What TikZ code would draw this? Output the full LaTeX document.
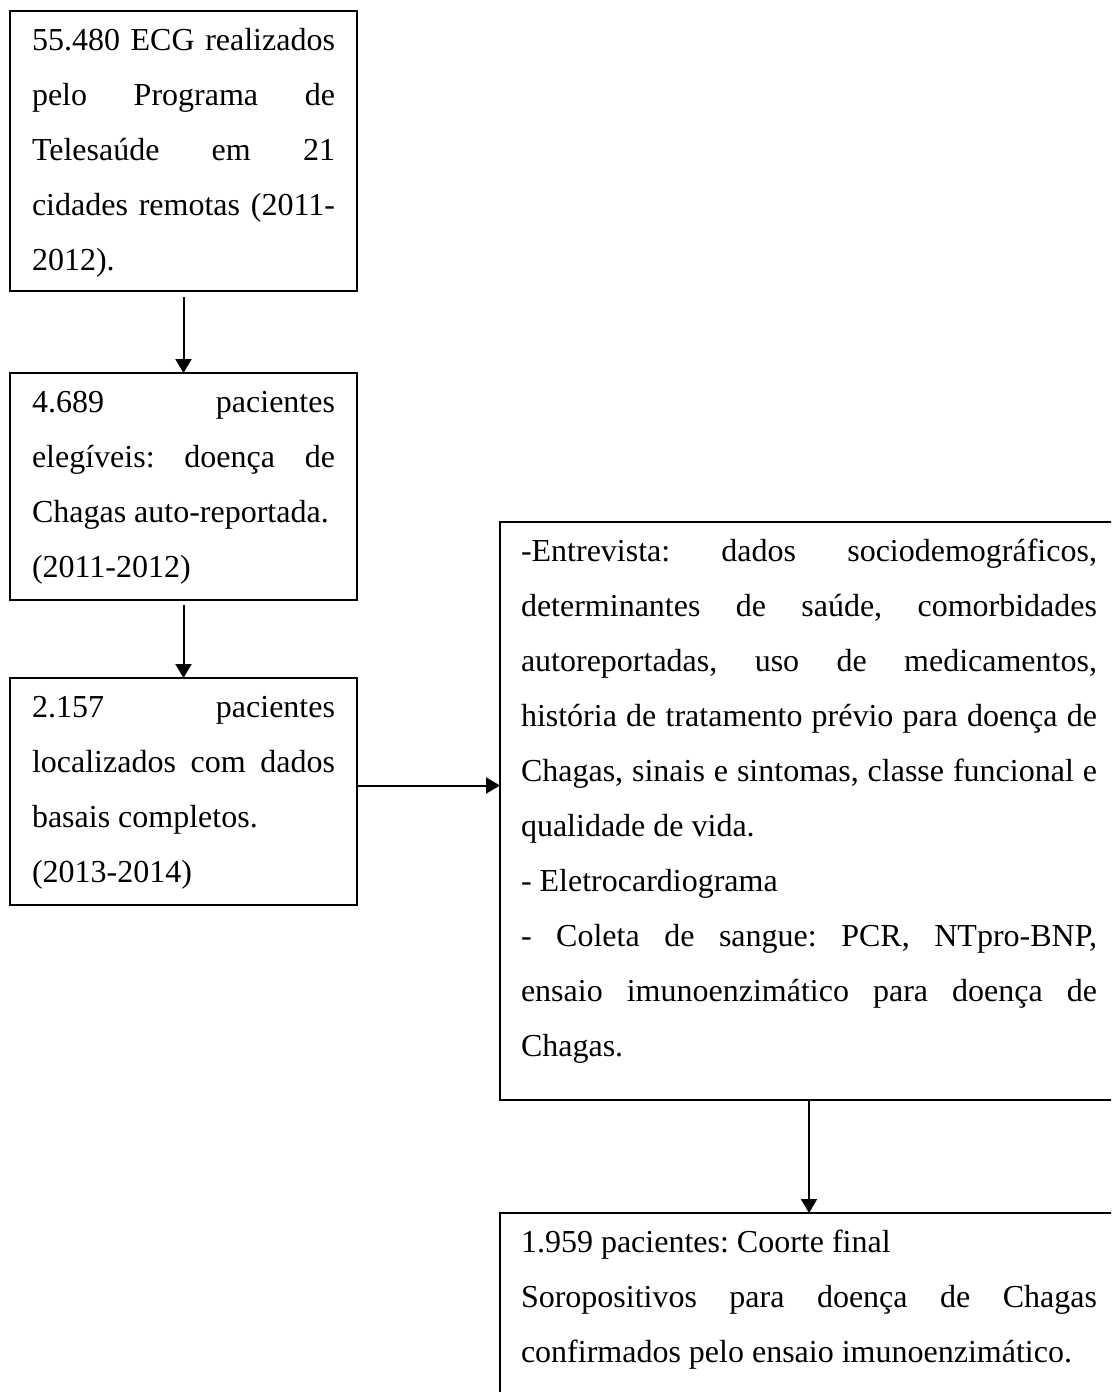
\documentclass[tikz,border=0pt]{standalone}
\usepackage{fontspec}
\setmainfont{Liberation Serif}
\usetikzlibrary{arrows.meta}
\setlength{\parindent}{0pt}
\tolerance=10000
\hbadness=10000
\hfuzz=20pt
\hyphenpenalty=10000
\frenchspacing
\newcommand{\jls}[1]{\noindent\hbox to 303pt{#1}}
\newcommand{\jlb}[1]{\noindent\hbox to 576pt{#1}}
\newcommand{\topstrut}{\spaceskip=0pt\xspaceskip=0pt\rule{0pt}{39pt}}
\newcommand{\botstrut}[1]{\rule[-#1]{0pt}{#1}}
\tikzset{
  box/.style={draw, line width=2pt, outer sep=0pt, inner xsep=22pt, inner ysep=0pt,
    anchor=north west, align=left, font=\fontsize{32}{55}\selectfont\frenchspacing},
  smallbox/.style={box, text width=303pt},
  bigbox/.style={box, inner xsep=21pt, text width=576pt},
  flow/.style={line width=2pt, -{Triangle[width=16pt,length=14pt]}}
}
\begin{document}
\begin{tikzpicture}[x=1pt,y=1pt]
\useasboundingbox (0,0) rectangle (1111,-1392);
\clip (0,0) rectangle (1111,-1392);
\fill[white] (0,0) rectangle (1111,-1392);

\node[smallbox] (b1) at (10,-11) {\topstrut\jls{55.480 ECG realizados}\\
\jls{pelo Programa de}\\
\jls{Telesaúde em 21}\\
\jls{cidades remotas (2011-}\\
2012).\botstrut{21pt}};

\node[smallbox] (b2) at (10,-373) {\topstrut\jls{4.689 pacientes}\\
\jls{elegíveis: doença de}\\
Chagas auto-reportada.\\
(2011-2012)\botstrut{23pt}};

\node[smallbox] (b3) at (10,-678) {\topstrut\jls{2.157 pacientes}\\
\jls{localizados com dados}\\
basais completos.\\
(2013-2014)\botstrut{23pt}};

\node[bigbox] (b4) at (500,-522) {\topstrut\jlb{-Entrevista: dados sociodemográficos,}\\
\jlb{determinantes de saúde, comorbidades}\\
\jlb{autoreportadas, uso de medicamentos,}\\
\jlb{história de tratamento prévio para doença de}\\
\jlb{Chagas, sinais e sintomas, classe funcional e}\\
qualidade de vida.\\
- Eletrocardiograma\\
\jlb{- Coleta de sangue: PCR, NTpro-BNP,}\\
\jlb{ensaio imunoenzimático para doença de}\\
Chagas.\botstrut{44pt}};

\node[bigbox] (b5) at (500,-1213) {\topstrut 1.959 pacientes: Coorte final\\
\jlb{Soropositivos para doença de Chagas}\\
confirmados pelo ensaio imunoenzimático.\botstrut{50pt}};

\draw[flow, shorten <=6pt] (b1.south) -- (b2.north);
\draw[flow, shorten <=5pt] (b2.south) -- (b3.north);
\draw[flow] ([yshift=6pt]b3.east) -- ([yshift=6pt]b3.east -| b4.west);
\draw[flow] (b4.south) -- (b5.north);
\end{tikzpicture}
\end{document}
